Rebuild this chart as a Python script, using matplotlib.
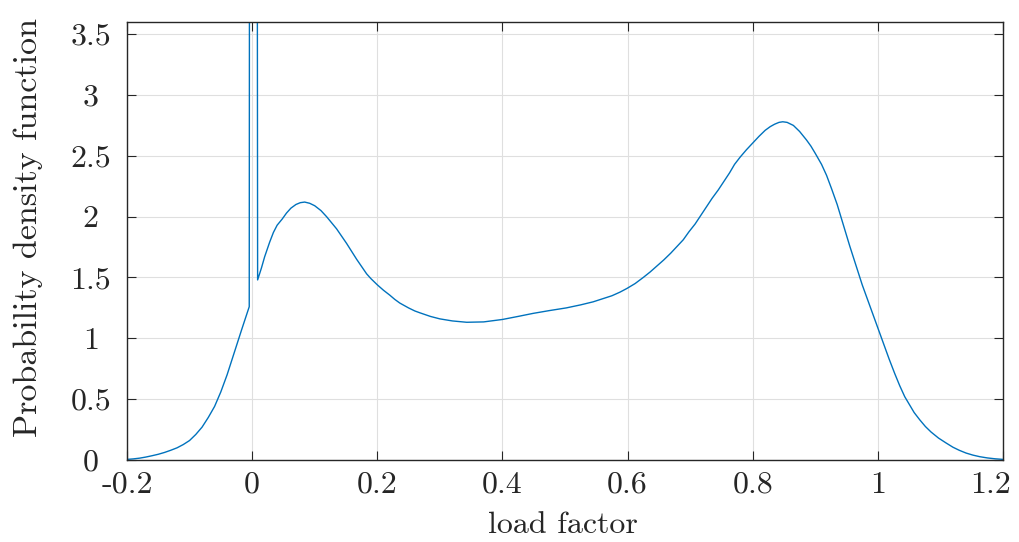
import matplotlib
matplotlib.use('Agg')
import matplotlib.pyplot as plt
from matplotlib.transforms import ScaledTranslation

# values (pdf of load factor)
load_factor = [-0.2, -0.19, -0.18, -0.17, -0.16, -0.15, -0.14, -0.13, -0.12,
               -0.11, -0.10, -0.09, -0.08, -0.07, -0.06, -0.05, -0.04, -0.03,
               -0.02, -0.0168, -0.0046, -0.0035, 0.0072, 0.0088, 0.015, 0.02,
               0.028, 0.034, 0.04, 0.048, 0.055, 0.062, 0.07, 0.077, 0.084,
               0.092, 0.10, 0.11, 0.119, 0.127, 0.135, 0.143, 0.151, 0.159,
               0.167, 0.175, 0.183, 0.19, 0.2, 0.21, 0.22, 0.228, 0.236, 0.25,
               0.26, 0.268, 0.285, 0.30, 0.32, 0.343, 0.37, 0.40, 0.425, 0.449,
               0.475, 0.502, 0.525, 0.545, 0.56, 0.575, 0.588, 0.599, 0.612,
               0.625, 0.636, 0.646, 0.658, 0.669, 0.679, 0.689, 0.698, 0.708,
               0.717, 0.726, 0.735, 0.745, 0.754, 0.763, 0.771, 0.78, 0.79,
               0.799, 0.81, 0.82, 0.828, 0.835, 0.842, 0.848, 0.855, 0.865,
               0.875, 0.886, 0.893, 0.90, 0.91, 0.918, 0.926, 0.935, 0.945,
               0.955, 0.965, 0.975, 0.987, 0.999, 1.008, 1.018, 1.027, 1.035,
               1.043, 1.05, 1.058, 1.067, 1.076, 1.085, 1.097, 1.109, 1.12,
               1.13, 1.141, 1.152, 1.163, 1.175, 1.187, 1.2]
pdf = [0.005, 0.009, 0.015, 0.024, 0.035, 0.047, 0.062, 0.08, 0.10,
       0.127, 0.16, 0.21, 0.27, 0.35, 0.44, 0.56, 0.70, 0.86,
       1.02, 1.07, 1.26, 10.0, 10.0, 1.48, 1.58, 1.67,
       1.79, 1.87, 1.93, 1.98, 2.03, 2.07, 2.10, 2.115, 2.12,
       2.11, 2.09, 2.05, 2.0, 1.95, 1.90, 1.84, 1.78, 1.715,
       1.65, 1.59, 1.53, 1.49, 1.44, 1.395, 1.355, 1.32, 1.29, 1.25,
       1.225, 1.21, 1.18, 1.16, 1.143, 1.132, 1.135, 1.155, 1.18, 1.205,
       1.228, 1.25, 1.275, 1.30, 1.325, 1.35, 1.38, 1.41, 1.45,
       1.50, 1.545, 1.59, 1.645, 1.70, 1.755, 1.81, 1.875, 1.94,
       2.01, 2.08, 2.15, 2.22, 2.29, 2.36, 2.43, 2.49, 2.55,
       2.60, 2.66, 2.71, 2.74, 2.76, 2.775, 2.78, 2.775, 2.75,
       2.70, 2.63, 2.58, 2.52, 2.43, 2.34, 2.23, 2.10, 1.93,
       1.76, 1.60, 1.44, 1.27, 1.10, 0.97, 0.83, 0.71, 0.61,
       0.52, 0.46, 0.39, 0.33, 0.275, 0.23, 0.18, 0.14, 0.105,
       0.08, 0.057, 0.04, 0.027, 0.017, 0.01, 0.005]

xticks = [-0.2, 0, 0.2, 0.4, 0.6, 0.8, 1, 1.2]
xtick_labels = ['-0.2', '0', '0.2', '0.4', '0.6', '0.8', '1', '1.2']
yticks = [0, 0.5, 1, 1.5, 2, 2.5, 3, 3.5]
ytick_labels = ['0', '0.5', '1', '1.5', '2', '2.5', '3', '3.5']

plt.rcParams['font.family'] = 'cmr10'
plt.rcParams['axes.unicode_minus'] = False
plt.rcParams['axes.formatter.use_mathtext'] = True

dark = '#262626'
fig = plt.figure(figsize=(10.19, 5.42), dpi=100)
ax = fig.add_axes([0.1246, 0.1513, 0.8597, 0.8081])

ax.plot(load_factor, pdf, color='#0072BD', lw=1.0)

ax.set_xlim(-0.2, 1.2)
ax.set_ylim(0, 3.6)
ax.set_xticks(xticks)
ax.set_xticklabels(xtick_labels)
ax.set_yticks(yticks)
ax.set_yticklabels(ytick_labels)
ax.grid(True, color='#DFDFDF', lw=0.8)
ax.set_axisbelow(True)

ax.tick_params(direction='in', length=6.5, width=0.8, color=dark,
               labelcolor=dark, labelsize=23, top=True, right=True)
ax.tick_params(axis='x', pad=8)
ax.tick_params(axis='y', pad=26)
for lab in ax.get_yticklabels():
    lab.set_horizontalalignment('center')
# last x label sits a bit to the left so it stays inside the figure
last = ax.get_xticklabels()[-1]
last.set_transform(last.get_transform() + ScaledTranslation(-0.12, 0, fig.dpi_scale_trans))

for sp in ax.spines.values():
    sp.set_color(dark)
    sp.set_linewidth(1.0)

ax.set_xlabel('load factor', fontsize=23, color=dark, va='center')
ax.set_ylabel('Probability density function', fontsize=24.5, color=dark, va='center')
ax.xaxis.set_label_coords(0.498, -0.148)
ax.yaxis.set_label_coords(-0.113, 0.53)

plt.savefig('out.png', dpi=100)
